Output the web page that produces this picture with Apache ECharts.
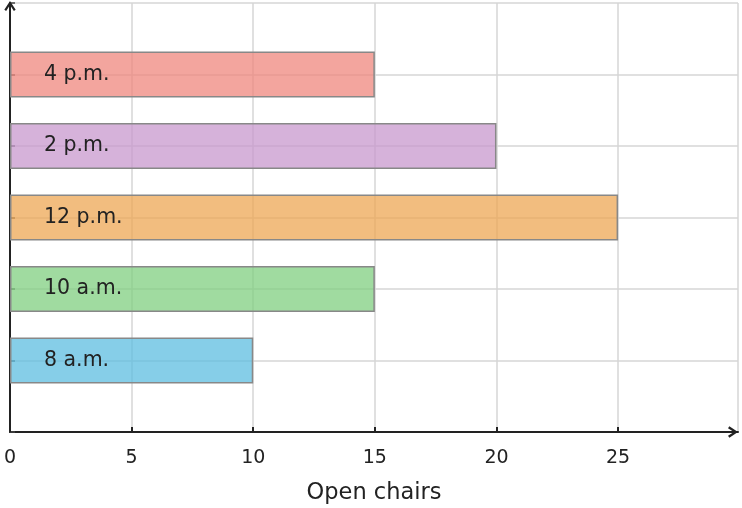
<!DOCTYPE html>
<html><head><meta charset="utf-8">
<script src="https://cdn.jsdelivr.net/npm/echarts@6/dist/echarts.min.js"></script>
<style>html,body{margin:0;padding:0;background:#fff}#c{width:742px;height:508px}</style>
</head><body><div id="c"></div>
<script>
const categories = ['8 a.m.', '10 a.m.', '12 p.m.', '2 p.m.', '4 p.m.'];
const values = [10, 15, 25, 20, 15];
const barColors = ['rgba(93,190,224,0.75)', 'rgba(128,207,128,0.75)', 'rgba(238,167,84,0.75)', 'rgba(200,152,206,0.75)', 'rgba(239,135,126,0.75)'];
const xTicks = [0, 5, 10, 15, 20, 25];
const xTitle = 'Open chairs';

const chart = echarts.init(document.getElementById('c'));
const font = "'DejaVu Sans', sans-serif";
const arrow = 'path://M5,0 L10,7.6 L8.4,8.8 L5,3.6 L1.6,8.8 L0,7.6 Z';
const yData = [''].concat(categories).concat(['']);
const barData = ['-'].concat(values.map((v, i) => ({
  value: v,
  itemStyle: { color: barColors[i] },
  label: { formatter: categories[i] }
}))).concat(['-']);

chart.setOption({
  animation: false,
  textStyle: { fontFamily: font },
  grid: { left: 10, right: 4, top: 3, bottom: 76, containLabel: false, outerBoundsMode: 'none' },
  xAxis: {
    type: 'value', min: 0, max: 29.93, interval: 5,
    name: xTitle, nameLocation: 'middle', nameGap: 50,
    nameTextStyle: { fontSize: 22.5, color: '#222', fontFamily: font },
    axisLine: { show: true, lineStyle: { color: '#222', width: 2 }, symbol: ['none', arrow], symbolSize: [12, 10], symbolOffset: [0, -5] },
    axisTick: { show: true, inside: true, length: 5, lineStyle: { color: '#222', width: 2 } },
    axisLabel: { fontSize: 19, color: '#222', margin: 17, showMaxLabel: false, fontFamily: font,
      formatter: v => (xTicks.indexOf(v) >= 0 ? String(v) : '') },
    splitLine: { show: true, lineStyle: { color: '#d6d6d6', width: 1.5 } }
  },
  yAxis: {
    type: 'category', data: yData, boundaryGap: false,
    axisLine: { show: true, lineStyle: { color: '#222', width: 2 }, symbol: ['none', arrow], symbolSize: [12, 10], symbolOffset: [0, -3] },
    axisTick: { show: true, inside: true, length: 5, lineStyle: { color: '#444', width: 1.5 } },
    axisLabel: { show: false },
    splitLine: { show: true, lineStyle: { color: '#d6d6d6', width: 1.5 } }
  },
  series: [{
    type: 'bar', data: barData, barWidth: 46,
    itemStyle: { borderColor: '#888', borderWidth: 1.5 },
    label: { show: true, position: 'insideLeft', distance: 34, fontSize: 20.5, color: '#222', fontFamily: font }
  }]
});
</script></body></html>
